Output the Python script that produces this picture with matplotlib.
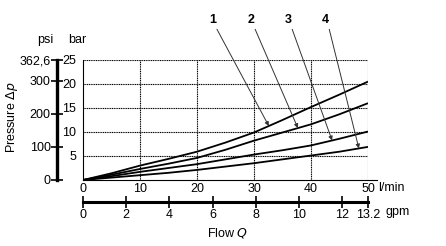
import numpy as np
import matplotlib

matplotlib.use("Agg")
import matplotlib.pyplot as plt

plt.rcParams["font.family"] = ["Liberation Sans", "DejaVu Sans"]
plt.rcParams["font.size"] = 9

# Flow in l/min and pressure drop in bar
flow = [0, 5, 10, 15, 20, 25, 30, 35, 40, 45, 50]
curve_1 = [0, 1.4, 3.0, 4.4, 5.9, 7.8, 9.9, 12.5, 15.2, 17.8, 20.5]
curve_2 = [0, 1.1, 2.3, 3.4, 4.6, 6.3, 8.2, 9.9, 11.6, 13.7, 16.0]
curve_3 = [0, 0.8, 1.7, 2.5, 3.3, 4.3, 5.3, 6.2, 7.2, 8.6, 10.1]
curve_4 = [0, 0.5, 1.0, 1.5, 2.1, 2.8, 3.5, 4.3, 5.1, 5.9, 6.9]
curves = [curve_1, curve_2, curve_3, curve_4]
curve_names = ["1", "2", "3", "4"]

# where the leader arrows touch each curve (l/min)
leader_flow = [32.6, 37.7, 43.7, 48.4]

lpm_ticks = [0, 10, 20, 30, 40, 50]
bar_ticks = [5, 10, 15, 20, 25]
gpm_ticks = [0, 2, 4, 6, 8, 10, 12, 13.2]
gpm_labels = ["0", "2", "4", "6", "8", "10", "12", "13.2"]
psi_ticks = [0, 100, 200, 300, 362.6]
psi_labels = ["0", "100", "200", "300", "362,6"]

W, H = 446, 246
fig = plt.figure(figsize=(W / 100, H / 100), dpi=100)


def fx(px):
    return px / W


def fy(py):
    return 1 - py / H


left, right, top, bottom = 83, 368, 60, 180
ax = fig.add_axes([fx(left), fy(bottom), fx(right - left), fy(top) - fy(bottom)])
ax.set_xlim(0, 50)
ax.set_ylim(0, 25)

for s in ("top", "right", "bottom"):
    ax.spines[s].set_visible(False)
ax.spines["left"].set_linewidth(0.8)

grid_kw = dict(color="black", lw=0.8, linestyle=(0, (1, 0.6)))
for q in lpm_ticks[1:]:
    ax.axvline(q, **grid_kw)
for p in bar_ticks:
    ax.axhline(p, **grid_kw)
ax.axhline(0, xmin=0, xmax=1.033, color="black", lw=0.8, clip_on=False)

ax.set_xticks(lpm_ticks)
ax.set_yticks(bar_ticks)
ax.tick_params(axis="x", length=0, pad=2)
ax.tick_params(axis="y", length=0, pad=5)
fig.text(fx(378), fy(188), "l/min", ha="left", va="center", fontsize=9)

for c in curves:
    ax.plot(flow, c, color="black", lw=1.3, solid_capstyle="butt")

for name, c, qx, tx in zip(curve_names, curves, leader_flow, [22.8, 29.5, 36.0, 42.5]):
    py = np.interp(qx, flow, c)
    ax.text(tx, 33.4, name, ha="center", va="center", fontsize=9, fontweight="bold")
    start_q = tx + 0.7
    ax.annotate("", xy=(qx, py), xytext=(start_q, 31.4),
                arrowprops=dict(arrowstyle="-|>", lw=0.7, color="#333333",
                                mutation_scale=6, shrinkA=0, shrinkB=0),
                annotation_clip=False)

# gpm axis
gx = fig.add_axes([fx(left), fy(202), fx(right - left), 0.001])
gx.set_xlim(0, 13.2)
gx.set_ylim(0, 1)
for s in ("top", "right", "left"):
    gx.spines[s].set_visible(False)
gx.spines["bottom"].set_linewidth(2.2)
gx.set_yticks([])
gx.set_xticks(gpm_ticks)
gx.set_xticklabels(gpm_labels)
gx.tick_params(axis="x", direction="inout", length=8, width=1.2, pad=1)
fig.text(fx(386), fy(212), "gpm", ha="left", va="center", fontsize=9)
fig.text(fx(228), fy(233), "Flow $\\mathit{Q}$", ha="center", va="center", fontsize=9)

# psi axis
px_ax = fig.add_axes([fx(57), fy(bottom), 0.0001, fy(top) - fy(bottom)])
px_ax.set_ylim(0, 362.6)
px_ax.set_xticks([])
for s in ("top", "right", "bottom"):
    px_ax.spines[s].set_visible(False)
px_ax.spines["left"].set_linewidth(2.4)
px_ax.set_yticks(psi_ticks)
px_ax.set_yticklabels(psi_labels)
px_ax.tick_params(axis="y", direction="inout", length=9, width=1.2, pad=0)

fig.text(fx(45), fy(40), "psi", ha="center", va="center", fontsize=9)
fig.text(fx(77), fy(40), "bar", ha="center", va="center", fontsize=9)
fig.text(fx(12), fy(117), "Pressure $\\Delta\\mathit{p}$", rotation=90,
         ha="center", va="center", fontsize=9)

fig.savefig("out.png", dpi=100)
